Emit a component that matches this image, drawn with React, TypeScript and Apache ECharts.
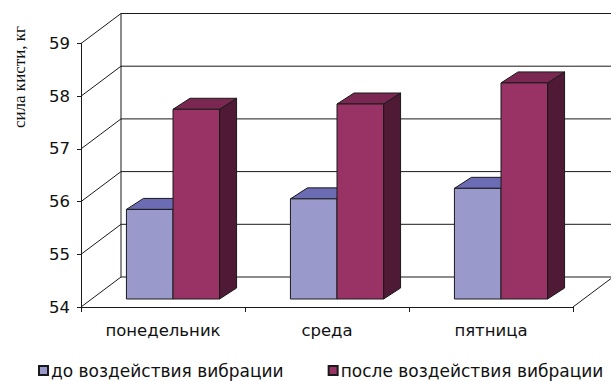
import React, { useEffect, useRef } from "react";
import * as echarts from "echarts";

// Grip strength measured on three weekdays, before and after vibration exposure
const categories = ["понедельник", "среда", "пятница"];
const seriesNames = ["до воздействия вибрации", "после воздействия вибрации"];
const beforeValues = [55.7, 55.9, 56.1];
const afterValues = [57.6, 57.7, 58.1];
const yTicks = [54, 55, 56, 57, 58, 59];
const yTitle = "сила кисти, кг";

const Y_MIN = yTicks[0];
const Y_MAX = yTicks[yTicks.length - 1];

// Pseudo-3D geometry (pixels)
const WALL_DX = 40;
const WALL_DY = -30;
const BAR_FRONT_DX = 10;
const BAR_FRONT_DY = -8;
const BAR_DX = 17;
const BAR_DY = -11;
const BAR_RATIO = 0.284;

const EDGE = "#1a1a1a";
const FONT = "'DejaVu Sans', 'Liberation Sans', Arial, sans-serif";

const palettes = [
  { front: "#9999cc", top: "#6c6cb4", side: "#55558f" },
  { front: "#993366", top: "#7a2852", side: "#4f1a35" },
];

function barRenderer(seriesIdx: number) {
  const pal = palettes[seriesIdx];
  return (params: any, api: any) => {
    const i = api.value(0);
    const v = api.value(1);
    const base = api.coord([i, Y_MIN]);
    const top = api.coord([i, v]);
    const catW = api.size([1, 0])[0];
    const bw = catW * BAR_RATIO;
    const x0 = base[0] + (seriesIdx - 1) * bw + BAR_FRONT_DX;
    const x1 = x0 + bw;
    const yb = base[1] + BAR_FRONT_DY;
    const yt = top[1] + BAR_FRONT_DY;
    const lineStyle = { stroke: EDGE, lineWidth: 1 };
    return {
      type: "group",
      children: [
        {
          type: "polygon",
          shape: {
            points: [
              [x1, yt],
              [x1 + BAR_DX, yt + BAR_DY],
              [x1 + BAR_DX, yb + BAR_DY],
              [x1, yb],
            ],
          },
          style: { fill: pal.side, ...lineStyle },
        },
        {
          type: "polygon",
          shape: {
            points: [
              [x0, yt],
              [x0 + BAR_DX, yt + BAR_DY],
              [x1 + BAR_DX, yt + BAR_DY],
              [x1, yt],
            ],
          },
          style: { fill: pal.top, ...lineStyle },
        },
        {
          type: "rect",
          shape: { x: x0, y: yt, width: bw, height: yb - yt },
          style: { fill: pal.front, ...lineStyle },
        },
      ],
    };
  };
}

function wallRenderer(params: any, api: any) {
  const cs = params.coordSys;
  const v = api.value(1);
  const y = api.coord([0, v])[1];
  const left = cs.x;
  const right = cs.x + cs.width;
  const ls = { stroke: EDGE, lineWidth: 1 };
  const children: any[] = [
    {
      type: "line",
      shape: { x1: left, y1: y, x2: left + WALL_DX, y2: y + WALL_DY },
      style: ls,
    },
    {
      type: "line",
      shape: {
        x1: left + WALL_DX,
        y1: y + WALL_DY,
        x2: right + WALL_DX,
        y2: y + WALL_DY,
      },
      style: ls,
    },
  ];
  if (v === Y_MIN) {
    const yTop = api.coord([0, Y_MAX])[1];
    children.push(
      {
        type: "line",
        shape: {
          x1: left + WALL_DX,
          y1: y + WALL_DY,
          x2: left + WALL_DX,
          y2: yTop + WALL_DY,
        },
        style: ls,
      },
      {
        type: "line",
        shape: { x1: right, y1: y, x2: right + WALL_DX, y2: y + WALL_DY },
        style: ls,
      }
    );
  }
  return { type: "group", children };
}

export default function App() {
  const ref = useRef<HTMLDivElement>(null);

  useEffect(() => {
    if (!ref.current) return;
    const chart = echarts.init(ref.current, undefined, { renderer: "svg" });
    const valueSets = [beforeValues, afterValues];

    chart.setOption({
      animation: false,
      backgroundColor: "#ffffff",
      grid: { left: 81, right: 38, top: 43.5, bottom: 74 },
      xAxis: {
        type: "category",
        data: categories,
        boundaryGap: true,
        axisLine: { show: true, lineStyle: { color: EDGE, width: 1 } },
        axisTick: { show: true, length: 5, lineStyle: { color: EDGE } },
        axisLabel: {
          color: "#111",
          fontSize: 16.5,
          fontFamily: FONT,
          margin: 15,
        },
        splitLine: { show: false },
      },
      yAxis: {
        type: "value",
        min: Y_MIN,
        max: Y_MAX,
        interval: 1,
        axisLine: { show: true, lineStyle: { color: EDGE, width: 1 } },
        axisTick: { show: true, length: 4, lineStyle: { color: EDGE } },
        axisLabel: {
          color: "#111",
          fontSize: 16.5,
          fontFamily: FONT,
          margin: 11,
        },
        splitLine: { show: false },
      },
      legend: {
        data: seriesNames,
        left: 33,
        top: 357,
        icon: "rect",
        itemWidth: 9,
        itemHeight: 9,
        itemGap: 44,
        textStyle: {
          color: "#111",
          fontSize: 17,
          fontFamily: FONT,
          padding: [0, 0, 0, -2],
        },
      },
      graphic: [
        {
          type: "text",
          x: 19,
          y: 77,
          rotation: Math.PI / 2,
          style: {
            text: yTitle,
            fill: "#111",
            font: "17px 'Liberation Serif', 'Times New Roman', serif",
            align: "center",
            verticalAlign: "middle",
          },
        },
      ],
      series: [
        {
          type: "custom",
          name: "walls",
          z: 1,
          silent: true,
          renderItem: wallRenderer,
          data: yTicks.map((v) => [0, v]),
        },
        ...seriesNames.map((name, s) => ({
          type: "custom",
          name,
          z: 3,
          renderItem: barRenderer(s),
          itemStyle: {
            color: palettes[s].front,
            borderColor: EDGE,
            borderWidth: 1,
          },
          data: valueSets[s].map((v, i) => [i, v]),
        })),
      ],
    });

    return () => chart.dispose();
  }, []);

  return (
    <div
      ref={ref}
      style={{
        position: "fixed",
        left: 0,
        top: 0,
        width: 611,
        height: 381,
      }}
    />
  );
}
